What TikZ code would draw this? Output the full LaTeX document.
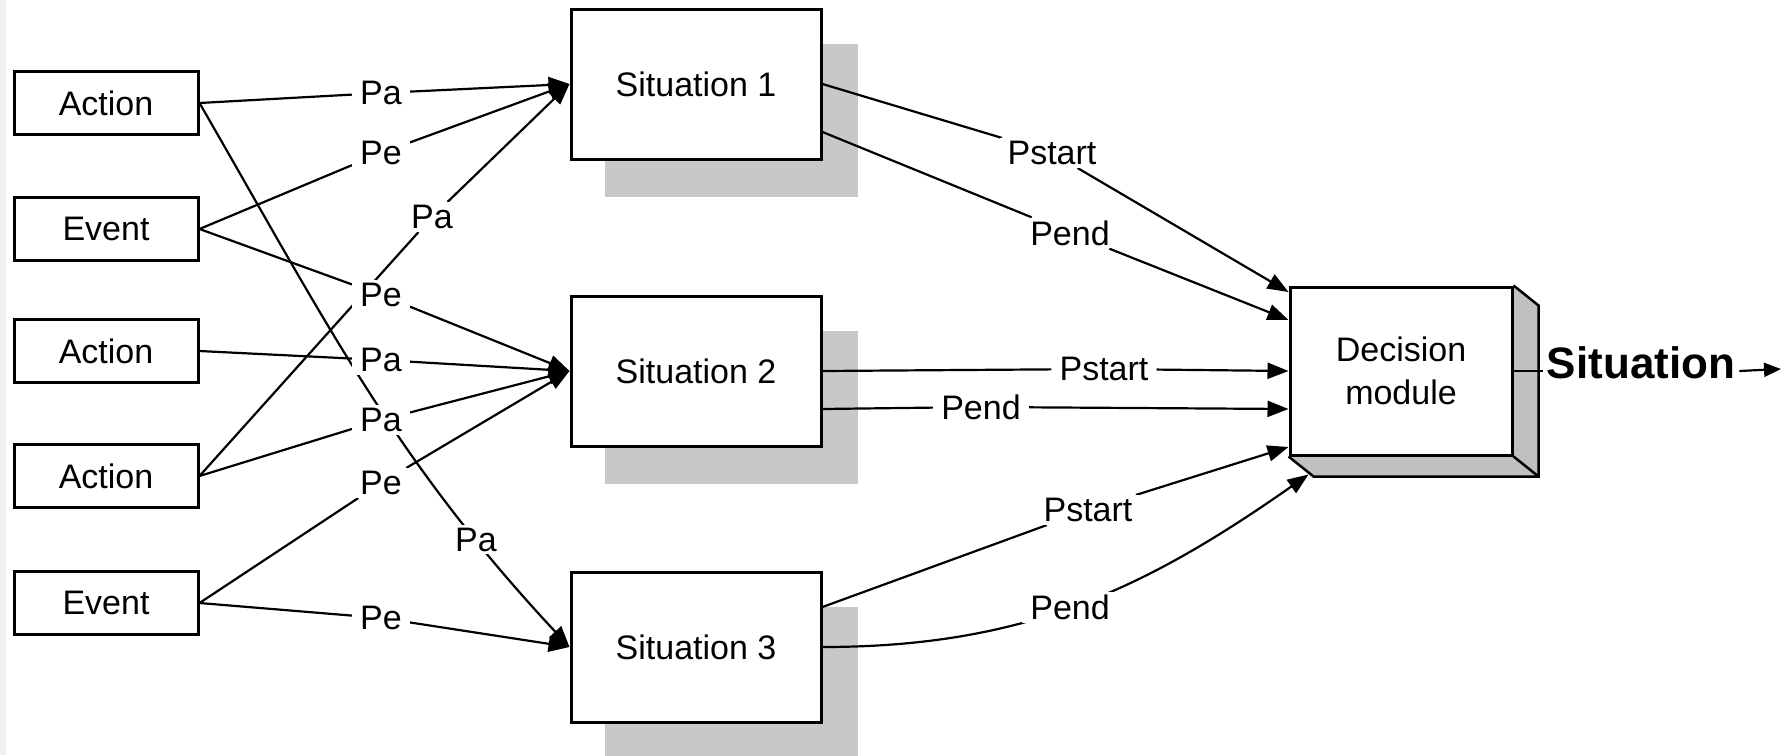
\documentclass[tikz,border=0pt]{standalone}
\usepackage{fontspec}
\setmainfont{Liberation Sans}
\usetikzlibrary{arrows.meta,calc}
\pgfdeclarelayer{under}
\pgfsetlayers{under,main}
\definecolor{dropgray}{RGB}{200,200,200}
\definecolor{sidegray}{RGB}{192,192,192}
\definecolor{rimgray}{RGB}{240,240,240}
\newcommand\boxfont{\fontsize{34pt}{43pt}\selectfont}
\newcommand\outfont{\fontsize{44pt}{50pt}\selectfont\bfseries}
\tikzset{
  srcbox/.style={draw, line width=3pt, fill=white, minimum width=184pt, minimum height=63pt, inner sep=0pt, font=\boxfont},
  sitbox/.style={draw, line width=3pt, fill=white, minimum width=250pt, minimum height=150pt, inner sep=0pt, font=\boxfont},
  decbox/.style={draw, line width=3pt, fill=white, minimum width=222pt, minimum height=168pt, inner sep=0pt, align=center, font=\boxfont},
  lbl/.style={fill=white, inner xsep=8pt, inner ysep=3pt, font=\boxfont},
  outlbl/.style={inner xsep=4pt, inner ysep=2pt, font=\outfont},
  conn/.style={line width=2.2pt},
  arr/.style={conn, -{Triangle[length=21pt,width=16pt]}},
  outarr/.style={conn, -{Triangle[length=17pt,width=14pt]}},
  rimline/.style={line width=2.5pt},
}
\begin{document}
\begin{tikzpicture}[x=1pt,y=1pt]
\useasboundingbox (0,0) rectangle (1785,-755);

% input boxes
\node[srcbox] (act1) at (106,-103) {Action};
\node[srcbox] (ev1)  at (106,-229) {Event};
\node[srcbox] (act2) at (106,-351) {Action};
\node[srcbox] (act3) at (106,-476) {Action};
\node[srcbox] (ev2)  at (106,-603) {Event};

% situation boxes
\node[sitbox] (sit1) at (696,-84)  {Situation 1};
\node[sitbox] (sit2) at (696,-371) {Situation 2};
\node[sitbox] (sit3) at (696,-647) {Situation 3};

% decision module
\node[decbox] (dec) at (1401,-371) {Decision\\module};

% probability labels, left side
\node[lbl] (la1) at (381,-93)  {Pa};
\node[lbl] (le1) at (381,-153) {Pe};
\node[lbl] (la3) at (432,-217) {Pa};
\node[lbl] (le2) at (381,-295) {Pe};
\node[lbl] (la2) at (381,-360) {Pa};
\node[lbl] (la4) at (381,-420) {Pa};
\node[lbl] (le3) at (381,-483) {Pe};
\node[lbl] (le4) at (381,-618) {Pe};

% probability labels, right side
\node[lbl] (ps1) at (1052,-153) {Pstart};
\node[lbl] (pe1) at (1070,-233) {Pend};
\node[lbl] (ps2) at (1104,-369) {Pstart};
\node[lbl] (pe2) at (981,-407)  {Pend};
\node[lbl] (ps3) at (1088,-510) {Pstart};

% output label
\node[outlbl] (sitout) at (1641,-363) {Situation};
\coordinate (outend) at (1781,-369);

\begin{pgfonlayer}{under}
  \fill[white] (0,0) rectangle (1785,-755);
  \fill[rimgray] (0,0) rectangle (6,-755);
  % drop shadows
  \foreach \s in {sit1,sit2,sit3}
    \fill[dropgray] ($(\s.south west)+(35,-36)$) rectangle ($(\s.north east)+(35,-36)$);
  % extruded faces of the decision module
  \fill[sidegray] (dec.north east) -- ++(25,-20) -- ($(dec.south east)+(25,-20)$) -- (dec.south east) -- cycle;
  \fill[sidegray] (dec.south west) -- (dec.south east) -- ($(dec.south east)+(25,-20)$) -- ($(dec.south west)+(25,-20)$) -- cycle;
  \draw[rimline] (dec.north east) -- ++(25,-20) -- ($(dec.south east)+(25,-20)$) -- ($(dec.south west)+(25,-20)$) -- (dec.south west);
  \draw[rimline] (dec.south east) -- ++(25,-20);

  % actions and events into situations
  \draw[arr] (act1.east) -- (la1) -- (sit1.west);
  \draw[arr] (ev1.east) -- (le1) -- (sit1.west);
  \draw[arr] (act3.east) -- (la3) -- (sit1.west);
  \draw[arr] (ev1.east) -- (le2) -- (sit2.west);
  \draw[arr] (act2.east) -- (la2) -- (sit2.west);
  \draw[arr] (act3.east) -- (la4) -- (sit2.west);
  \draw[arr] (ev2.east) -- (le3) -- (sit2.west);
  \draw[arr] (act1.east) to[out=-60,in=133] node[lbl,pos=0.8] (la5) {Pa} (sit3.west);
  \draw[arr] (ev2.east) -- (le4) -- (sit3.west);

  % situations into the decision module
  \draw[arr] (sit1.east) -- (ps1) -- ($(dec.west)+(0,79)$);
  \draw[arr] ($(sit1.east)+(0,-48)$) -- (pe1) -- ($(dec.west)+(0,51)$);
  \draw[arr] (sit2.east) -- (ps2) -- (dec.west);
  \draw[arr] ($(sit2.east)+(0,-38)$) -- (pe2) -- ($(dec.west)+(0,-38)$);
  \draw[arr] ($(sit3.east)+(0,40)$) -- (ps3) -- ($(dec.west)+(0,-76)$);
  \draw[arr] (sit3.east) to[out=0,in=-145] node[lbl,pos=0.48] (pe3) {Pend} ($(dec.south west)+(20,-18)$);

  % output
  \draw[conn] (dec.east) -- (sitout.west |- dec.east);
  \draw[outarr] (sitout.east |- dec.east) -- (outend);
\end{pgfonlayer}
\end{tikzpicture}
\end{document}
